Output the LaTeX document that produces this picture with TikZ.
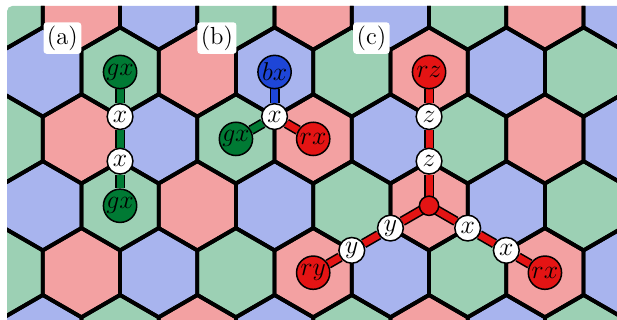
\documentclass[tikz,border=0pt]{standalone}
\usetikzlibrary{positioning}
\usepackage{xcolor}
\definecolor{hex0}{RGB}{168,180,238}
\definecolor{hex1}{RGB}{156,208,180}
\definecolor{hex2}{RGB}{243,161,162}
\definecolor{siteGreen}{RGB}{0,122,52}
\definecolor{siteBlue}{RGB}{30,70,215}
\definecolor{siteRed}{RGB}{228,20,20}
\pgfdeclarelayer{tiles}
\pgfdeclarelayer{bonds}
\pgfsetlayers{tiles,bonds,main}

\begin{document}
\begin{tikzpicture}[x=7.3mm, y=7.3mm,
    every node/.style={font=\fontsize{11.5}{14}\selectfont},
    site/.style={circle, draw, line width=0.7pt, minimum size=15.5pt, inner sep=0pt},
    spin/.style={circle, draw, fill=white, line width=0.7pt, minimum size=12pt, inner sep=0pt},
    hub/.style={circle, draw, fill=siteRed, line width=0.7pt, minimum size=9pt, inner sep=0pt},
    bond/.style={line width=0.75pt, double distance=3.2pt},
    tag/.style={fill=white, rounded corners=1.5pt, inner sep=1.6pt}
  ]
  \useasboundingbox (-0.96,-5.561) rectangle (12.874,1.614);

  % honeycomb, three colours
  \begin{pgfonlayer}{tiles}
    \begin{scope}
      \clip[rounded corners=2.5pt] (-0.803,-6.5) rectangle (13.5,1.48);
      \foreach \r in {-1,...,4} {
        \foreach \k in {0,...,8} {
          \pgfmathtruncatemacro{\c}{mod(\k+mod(\r+2,2),3)}
          \pgfmathsetmacro{\hx}{sqrt(3)*\k-sqrt(3)/2*mod(\r+2,2)}
          \pgfmathsetmacro{\hy}{-1.5*\r}
          \fill[hex\c] (\hx,\hy) +(30:1) -- +(90:1) -- +(150:1) -- +(210:1)
                -- +(270:1) -- +(330:1) -- cycle;
        }
      }
      \foreach \r in {-1,...,4} {
        \foreach \k in {0,...,8} {
          \pgfmathsetmacro{\hx}{sqrt(3)*\k-sqrt(3)/2*mod(\r+2,2)}
          \pgfmathsetmacro{\hy}{-1.5*\r}
          \draw[line width=1.8pt] (\hx,\hy) +(30:1) -- +(90:1) -- +(150:1) -- +(210:1)
                -- +(270:1) -- +(330:1) -- cycle;
        }
      }
    \end{scope}
  \end{pgfonlayer}

  % (a)
  \node[site, fill=siteGreen] (agx1) at ({sqrt(3)},0)  {$gx$};
  \node[spin]                 (ax1)  at ({sqrt(3)},-1) {$x$};
  \node[spin]                 (ax2)  at ({sqrt(3)},-2) {$x$};
  \node[site, fill=siteGreen] (agx2) at ({sqrt(3)},-3) {$gx$};

  % (b)
  \node[site, fill=siteBlue]  (bbx) at ({3*sqrt(3)},0)    {$bx$};
  \node[spin]                 (bx)  at ({3*sqrt(3)},-1)   {$x$};
  \node[site, fill=siteGreen] (bgx) at ({2.5*sqrt(3)},-1.5) {$gx$};
  \node[site, fill=siteRed]   (brx) at ({3.5*sqrt(3)},-1.5) {$rx$};

  % (c)
  \node[hub]                (chub) at ({5*sqrt(3)},-3) {};
  \node[spin]               (cz1)  at ({5*sqrt(3)},-2) {$z$};
  \node[spin]               (cz2)  at ({5*sqrt(3)},-1) {$z$};
  \node[site, fill=siteRed] (crz)  at ({5*sqrt(3)},0)  {$rz$};
  \node[spin]               (cy1)  at ({4.5*sqrt(3)},-3.5) {$y$};
  \node[spin]               (cy2)  at ({4*sqrt(3)},-4)     {$y$};
  \node[site, fill=siteRed] (cry)  at ({3.5*sqrt(3)},-4.5) {$ry$};
  \node[spin]               (cx1)  at ({5.5*sqrt(3)},-3.5) {$x$};
  \node[spin]               (cx2)  at ({6*sqrt(3)},-4)     {$x$};
  \node[site, fill=siteRed] (crx)  at ({6.5*sqrt(3)},-4.5) {$rx$};

  \begin{pgfonlayer}{bonds}
    \draw[bond, double=siteGreen] (agx1) -- (ax1) -- (ax2) -- (agx2);
    \draw[bond, double=siteBlue]  (bbx) -- (bx);
    \draw[bond, double=siteGreen] (bgx) -- (bx);
    \draw[bond, double=siteRed]   (brx) -- (bx);
    \draw[bond, double=siteRed]   (chub.center) -- (cz1) -- (cz2) -- (crz);
    \draw[bond, double=siteRed]   (chub.center) -- (cy1) -- (cy2) -- (cry);
    \draw[bond, double=siteRed]   (chub.center) -- (cx1) -- (cx2) -- (crx);
  \end{pgfonlayer}

  \node[tag] (taga) at (0.44,0.76) {(a)};
  \node[tag] (tagb) at ({0.44+2*sqrt(3)},0.76) {(b)};
  \node[tag] (tagc) at ({0.44+4*sqrt(3)},0.76) {(c)};
\end{tikzpicture}
\end{document}
